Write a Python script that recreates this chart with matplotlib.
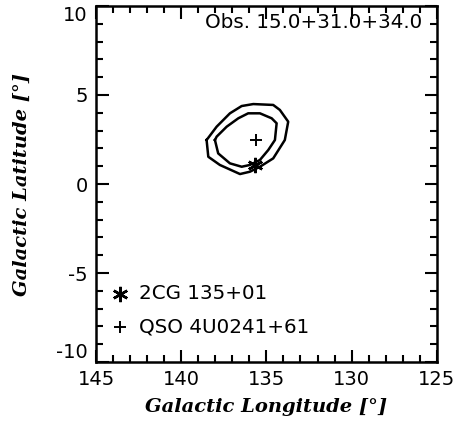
import matplotlib
matplotlib.use('Agg')
import matplotlib.pyplot as plt
from matplotlib.ticker import MultipleLocator

# contorni (l, b)
outer_l = [138.51, 138.41, 137.73, 136.55, 135.97, 135.38, 134.60, 133.92,
           133.72, 134.21, 134.60, 135.77, 136.45, 137.14, 137.92, 138.51]
outer_b = [2.47, 1.53, 1.07, 0.56, 0.69, 0.97, 1.44, 2.47,
           3.50, 4.16, 4.44, 4.49, 4.38, 3.97, 3.22, 2.47]
inner_l = [138.02, 137.83, 137.14, 136.45, 135.97, 135.38, 134.89, 134.50,
           134.40, 134.69, 135.38, 136.07, 136.65, 137.33, 137.92, 138.02]
inner_b = [2.47, 1.72, 1.16, 0.97, 1.07, 1.35, 1.91, 2.47,
           3.41, 3.69, 3.97, 3.97, 3.69, 3.22, 2.66, 2.47]

# sorgenti
src_2cg = (135.67, 1.07)
src_qso = (135.6, 2.47)

yticks = [-10, -5, 0, 5, 10]

plt.rcParams['font.family'] = 'DejaVu Sans'
plt.rcParams['axes.unicode_minus'] = False

fig = plt.figure(figsize=(4.55, 4.24), dpi=100)
ax = fig.add_axes([0.211, 0.146, 0.749, 0.840])

ax.plot(outer_l, outer_b, color='black', lw=1.8)
ax.plot(inner_l, inner_b, color='black', lw=1.8)
ax.plot(src_2cg[0], src_2cg[1], marker=(6, 2, 0), color='black', ms=11, mew=1.8, ls='none')
ax.plot(src_qso[0], src_qso[1], marker='+', color='black', ms=8, mew=1.4, ls='none')

# legenda a mano
ax.plot([143.6], [-6.15], marker=(6, 2, 0), color='black', ms=11, mew=1.8, ls='none')
ax.text(142.45, -6.15, '2CG 135+01', fontsize=14.3, va='center')
ax.plot([143.6], [-8.05], marker='+', color='black', ms=8, mew=1.4, ls='none')
ax.text(142.45, -8.05, 'QSO 4U0241+61', fontsize=14.3, va='center')

ax.text(125.85, 9.05, 'Obs. 15.0+31.0+34.0', fontsize=14.3, ha='right', va='center')

ax.set_xlim(145, 125)
ax.set_ylim(-10, 10)
ax.xaxis.set_major_locator(MultipleLocator(5))
ax.xaxis.set_minor_locator(MultipleLocator(1))
ax.set_yticks(yticks)
ax.yaxis.set_minor_locator(MultipleLocator(1))
ax.tick_params(which='both', direction='in', top=True, right=True, labelsize=14, width=1.5)
ax.tick_params(which='major', length=9, pad=6)
ax.tick_params(which='minor', length=5)
for s in ax.spines.values():
    s.set_linewidth(1.8)

# etichette estreme spostate dentro come in IDL
yt = ax.yaxis.get_major_ticks()
yt[0].label1.set_va('bottom')
yt[-1].label1.set_va('top')

ax.set_xlabel('Galactic Longitude [°]', fontsize=14, family='DejaVu Serif',
              style='italic', weight='bold')
ax.set_ylabel('Galactic Latitude [°]', fontsize=14, family='DejaVu Serif',
              style='italic', weight='bold')
ax.xaxis.set_label_coords(0.5, -0.1)
ax.yaxis.set_label_coords(-0.19, 0.5)

fig.savefig('out.png', dpi=100)
